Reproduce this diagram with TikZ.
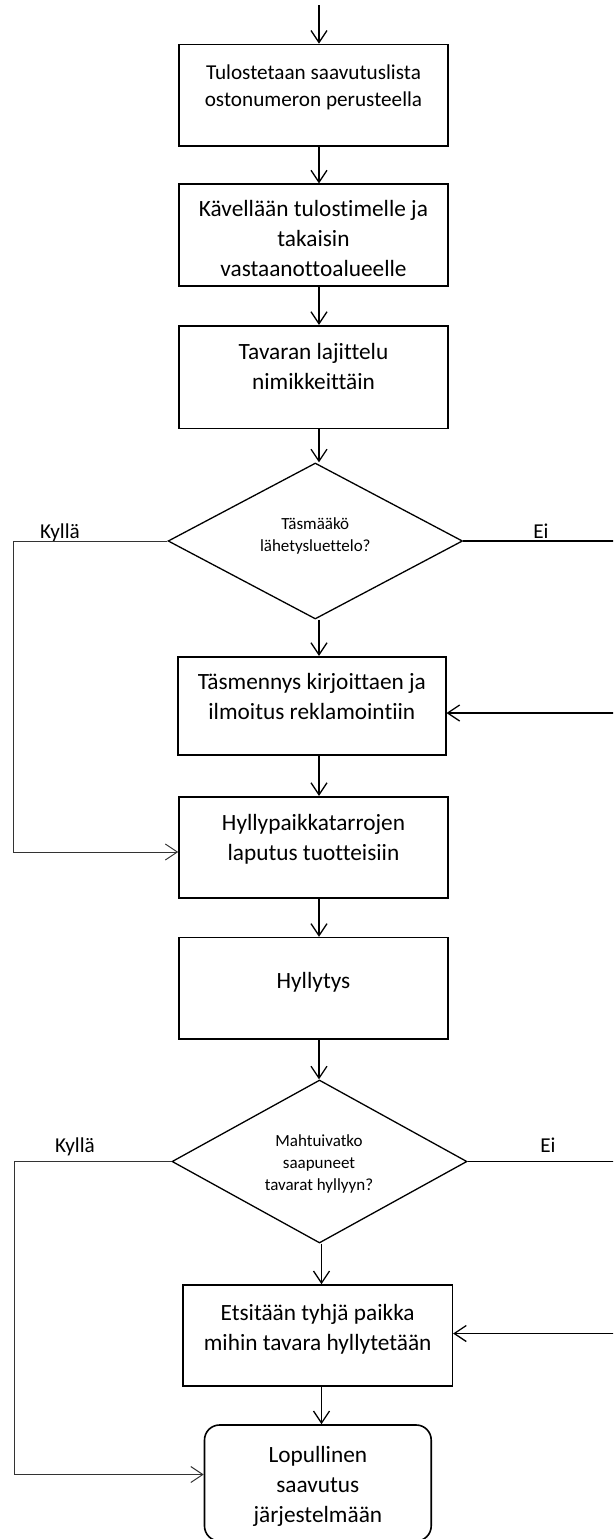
\documentclass[tikz,border=0pt]{standalone}
\usepackage{fontspec}
\setmainfont{Carlito}[Ligatures=NoCommon]
\usetikzlibrary{arrows.meta,shapes.geometric}
\begin{document}
\begin{tikzpicture}[x=1pt,y=-1pt,
  box/.style={draw=black,line width=1.6pt,inner sep=0pt,minimum width=269pt,minimum height=101.5pt},
  txt/.style={anchor=north,inner sep=0pt,align=center,font=\fontsize{23.3}{30}\selectfont},
  dtxt/.style={anchor=north,inner sep=0pt,align=center,font=\fontsize{17}{22}\selectfont},
  lbl/.style={anchor=base,inner sep=0pt,font=\fontsize{21.2}{25}\selectfont},
  dec/.style={diamond,draw=black,line width=1.3pt,inner sep=0pt},
  arr/.style={line width=1.3pt,-{Straight Barb[length=12pt,width=16pt]}},
  loopline/.style={line width=1pt,draw=black!80}
]
\useasboundingbox (0,0) rectangle (613,1539);
\clip (0,0) rectangle (613,1539);

% boxes and texts
\node[box] (b1) at (313.5,95.25) {};
\node[txt,font=\fontsize{21.2}{27}\selectfont] (t1) at (313.5,60.1) {\strut Tulostetaan saavutuslista\\ostonumeron perusteella};
\node[box] (b2) at (313.5,235) {};
\node[txt] (t2) at (313.5,195) {\strut Kävellään tulostimelle ja\\takaisin\\vastaanottoalueelle};
\node[box,minimum height=102.6pt] (b3) at (313.5,377) {};
\node[txt] (t3) at (313.5,338) {\strut Tavaran lajittelu\\nimikkeittäin};
\node[dec,minimum width=294.5pt,minimum height=156pt] (d1) at (315.3,541) {};
\node[dtxt] (t4) at (315.3,513.5) {\strut Täsmääkö\\lähetysluettelo?};
\node[box,minimum width=267.7pt,minimum height=98.3pt] (b4) at (311.85,705.85) {};
\node[txt] (t5) at (311.85,668) {\strut Täsmennys kirjoittaen ja\\ilmoitus reklamointiin};
\node[box] (b5) at (313.5,847.5) {};
\node[txt] (t6) at (313.5,809) {\strut Hyllypaikkatarrojen\\laputus tuotteisiin};
\node[box] (b6) at (313.5,988.35) {};
\node[txt] (t7) at (313.5,967) {\strut Hyllytys};
\node[dec,minimum width=295pt,minimum height=163pt] (d2) at (319.5,1161.5) {};
\node[dtxt] (t8) at (319,1131) {\strut Mahtuivatko\\saapuneet\\tavarat hyllyyn?};
\node[box,minimum width=269.3pt,minimum height=100.7pt] (b7) at (317.65,1335.35) {};
\node[txt] (t9) at (317.65,1299) {\strut Etsitään tyhjä paikka\\mihin tavara hyllytetään};
\node[box,rounded corners=15pt,minimum width=226.7pt,minimum height=116pt] (b8) at (317.85,1483) {};
\node[txt] (t10) at (317.85,1441) {\strut Lopullinen\\saavutus\\järjestelmään};

% labels
\node[lbl] (l1) at (60,538) {Kyllä};
\node[lbl] (l2) at (541,538) {Ei};
\node[lbl] (l3) at (75,1152) {Kyllä};
\node[lbl] (l4) at (548,1152) {Ei};

% helper coordinates
\coordinate (top) at (319,5);
\coordinate (col2) at (321.5,0);
\coordinate (k1) at (13,541);
\coordinate (kb1) at (13,852);
\coordinate (e1) at (620,541);
\coordinate (eb1) at (620,713);
\coordinate (k2) at (14.5,1161.5);
\coordinate (kb2) at (14.5,1474.5);
\coordinate (e2) at (620,1161.5);
\coordinate (eb2) at (620,1333.5);

% main flow
\draw[arr] (top) -- (b1.north -| top);
\draw[arr] (b1.south -| top) -- (b2.north -| top);
\draw[arr] (b2.south -| top) -- (b3.north -| top);
\draw[arr] (b3.south -| top) -- (d1.north -| top);
\draw[arr] (d1.south -| top) -- (b4.north -| top);
\draw[arr] (b4.south -| top) -- (b5.north -| top);
\draw[arr] (b5.south -| top) -- (b6.north -| top);
\draw[arr] (b6.south -| top) -- (d2.north -| top);
\draw[arr] (d2.south -| col2) -- (b7.north -| col2);
\draw[arr] (b7.south -| col2) -- (b8.north -| col2);

% branches
\draw[arr,loopline] (d1.west) -- (k1) -- (kb1) -- (b5.west |- kb1);
\draw[arr] (d1.east) -- (e1) -- (eb1) -- (b4.east |- eb1);
\draw[arr,loopline] (d2.west) -- (k2) -- (kb2) -- (b8.west |- kb2);
\draw[arr] (d2.east) -- (e2) -- (eb2) -- (b7.east |- eb2);
\end{tikzpicture}
\end{document}
